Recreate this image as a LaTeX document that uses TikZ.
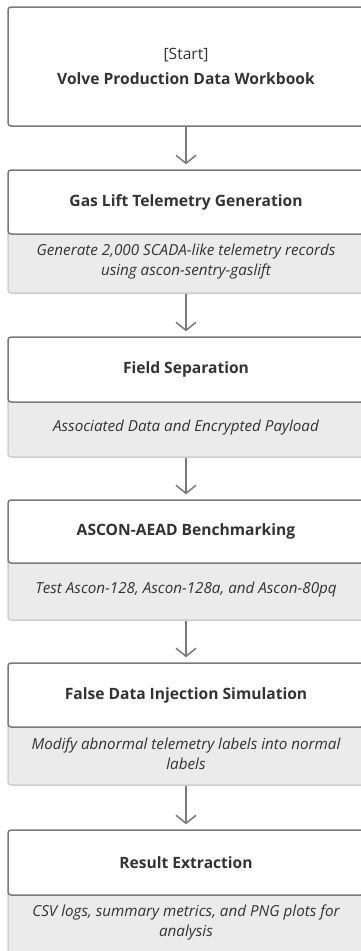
\documentclass[tikz,border=0pt]{standalone}
\usepackage{fontspec}
\setmainfont{Open Sans}
\usetikzlibrary{arrows.meta}
\definecolor{bordc}{HTML}{7A7A7A}
\definecolor{descfill}{HTML}{EBEBEB}
\definecolor{descbord}{HTML}{CFCFCF}
\definecolor{txt}{HTML}{333333}
\tikzset{
  titlebox/.style={draw=bordc, line width=1.5pt, fill=white, rounded corners=3pt,
    minimum width=356pt, text=txt, font=\bfseries\fontsize{15.6}{18}\selectfont,
    align=center, inner sep=0pt},
  startbox/.style={titlebox, font=\fontsize{15.6}{25}\selectfont},
  descbox/.style={draw=descbord, line width=1.5pt, fill=descfill, rounded corners=3pt,
    minimum width=356pt, text=txt, font=\itshape\fontsize{15.2}{20}\selectfont,
    align=center, inner sep=0pt},
  flowarrow/.style={draw=bordc, line width=1.5pt,
    -{Straight Barb[length=8pt,width=20pt]}, shorten >=5pt}
}
\begin{document}
\begin{tikzpicture}[x=1pt,y=1pt]
\useasboundingbox[fill=white] (0,0) rectangle (360,-951);
% descriptions (drawn first, behind titles)
\node[descbox, minimum height=63pt] (d2) at (186,-261.5) {Generate 2,000 SCADA-like telemetry records\\using ascon-sentry-gaslift};
\node[descbox, minimum height=59pt] (d3) at (186,-427.5) {Associated Data and Encrypted Payload};
\node[descbox, minimum height=61pt] (d4) at (186,-589.5) {Test Ascon-128, Ascon-128a, and Ascon-80pq};
\node[descbox, minimum height=62pt] (d5) at (186,-754) {Modify abnormal telemetry labels into normal\\labels};
\node[descbox, minimum height=64pt] (d6) at (186,-923) {CSV logs, summary metrics, and PNG plots for\\analysis};
% titles
\node[startbox, minimum height=119pt] (t1) at (186,-66.5) {[Start]\\\textbf{Volve Production Data Workbook}};
\node[titlebox, minimum height=64pt] (t2) at (186,-202) {Gas Lift Telemetry Generation};
\node[titlebox, minimum height=65pt] (t3) at (186,-369.5) {Field Separation};
\node[titlebox, minimum height=63pt] (t4) at (186,-531.5) {ASCON-AEAD Benchmarking};
\node[titlebox, minimum height=64pt] (t5) at (186,-695) {False Data Injection Simulation};
\node[titlebox, minimum height=65pt] (t6) at (186,-862.5) {Result Extraction};
% arrows
\draw[flowarrow] (t1.south) -- (t2.north);
\draw[flowarrow] (d2.south) -- (t3.north);
\draw[flowarrow] (d3.south) -- (t4.north);
\draw[flowarrow] (d4.south) -- (t5.north);
\draw[flowarrow] (d5.south) -- (t6.north);
\end{tikzpicture}
\end{document}
